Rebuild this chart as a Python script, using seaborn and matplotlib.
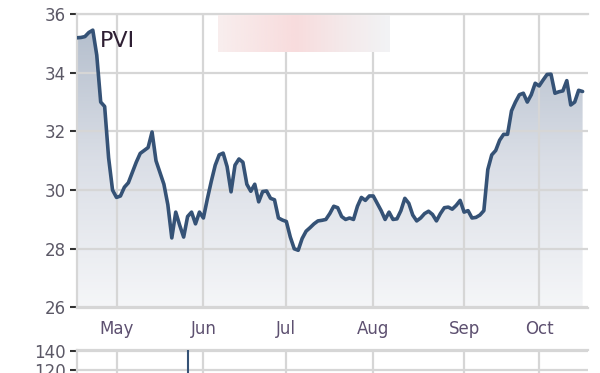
import numpy as np
import pandas as pd
import matplotlib
matplotlib.use("Agg")
import matplotlib.pyplot as plt
import seaborn as sns
from matplotlib.colors import LinearSegmentedColormap

# ---------------- data ----------------
ticker = "PVI"
start_date = "2012-04-16"
end_date = "2012-10-16"
holidays = ["2012-04-30", "2012-05-01", "2012-09-03"]
month_labels = ["May", "Jun", "Jul", "Aug", "Sep", "Oct"]

prices = [35.19, 35.20, 35.23, 35.37, 35.45, 34.60, 33.00, 32.85, 31.10, 30.00,
          29.75, 29.80, 30.10, 30.25, 30.60, 30.95, 31.25, 31.35, 31.45, 31.98,
          31.00, 30.60, 30.20, 29.50, 28.37, 29.25, 28.80, 28.40, 29.10, 29.25,
          28.85, 29.25, 29.05, 29.70, 30.30, 30.85, 31.20, 31.26, 30.80, 29.94,
          30.85, 31.06, 30.95, 30.20, 29.96, 30.20, 29.60, 29.95, 29.97, 29.72,
          29.67, 29.05, 28.98, 28.93, 28.40, 28.00, 27.95, 28.35, 28.60, 28.72,
          28.85, 28.95, 28.97, 29.00, 29.20, 29.45, 29.40, 29.10, 29.00, 29.05,
          29.00, 29.45, 29.75, 29.65, 29.80, 29.80, 29.55, 29.30, 29.00, 29.25,
          29.00, 29.02, 29.30, 29.72, 29.55, 29.15, 28.95, 29.05, 29.20, 29.28,
          29.17, 28.95, 29.20, 29.40, 29.42, 29.35, 29.48, 29.65, 29.25, 29.30,
          29.05, 29.07, 29.15, 29.30, 30.70, 31.20, 31.35, 31.70, 31.90, 31.90,
          32.70, 33.00, 33.25, 33.30, 33.00, 33.25, 33.64, 33.55, 33.75, 33.94,
          33.95, 33.30, 33.35, 33.38, 33.73, 32.90, 33.00, 33.40, 33.36]

price_ticks = [26, 28, 30, 32, 34, 36]
volume_day = [28]          # trading-day index of the one visible volume bar
volume_value = [150]
volume_ticks = [120, 140]

# ---------------- derived ----------------
days = pd.bdate_range(start_date, end_date)
days = days[~days.isin(pd.to_datetime(holidays))]
n = len(days)
df = pd.DataFrame({"idx": np.arange(n), "price": prices[:n], "date": days})
month_start_idx = [int(df.loc[(df.date.dt.month == m), "idx"].iloc[0])
                   for m in range(5, 11)]

LINE = "#355276"
GRID = "#d6d6d6"
TICKLAB = "#5b5866"
MONTHLAB = "#5d5070"

sns.set_theme(style="white")
plt.rcParams["font.family"] = ["DejaVu Sans"]

fig = plt.figure(figsize=(6, 3.73), dpi=100)
fig.patch.set_facecolor("white")

# ---------------- main price axes ----------------
ax = fig.add_axes([77 / 600, 1 - 307.5 / 373, 511 / 600, (307.5 - 14) / 373])
ax.set_facecolor("white")
xmax = 511 / 3.95

sns.lineplot(data=df, x="idx", y="price", ax=ax, color=LINE, lw=2.6, zorder=3)

poly = ax.fill_between(df["idx"], df["price"], 26, color="none", lw=0)
cmap = LinearSegmentedColormap.from_list("fillg", ["#f5f6f8", "#dadee6", "#b0bbca"])
grad = np.linspace(1, 0, 256).reshape(-1, 1)
im = ax.imshow(grad, extent=[0, n - 1, 26, 36], aspect="auto", cmap=cmap,
               origin="upper", zorder=0.3, vmin=0, vmax=1)
im.set_clip_path(poly.get_paths()[0], transform=ax.transData)

ax.set_xlim(0, xmax)
ax.set_ylim(26, 36)
ax.set_yticks(price_ticks)
ax.set_yticklabels([str(t) for t in price_ticks])
ax.set_xticks(month_start_idx)
ax.set_xticklabels(month_labels)
ax.set_xlabel("")
ax.set_ylabel("")
ax.grid(True, color=GRID, lw=1.6)
ax.set_axisbelow("line")
ax.spines["right"].set_visible(False)
for s in ["left", "top", "bottom"]:
    ax.spines[s].set_color(GRID)
    ax.spines[s].set_linewidth(1.6)
ax.tick_params(axis="y", left=True, length=5, width=1.5, color="#333333",
               labelsize=12, labelcolor=TICKLAB, pad=3)
ax.tick_params(axis="x", bottom=False, length=0, labelsize=12,
               labelcolor=MONTHLAB, pad=9)

ax.text((100 - 77) / 511, (307.5 - 41) / 293.5, ticker, transform=ax.transAxes,
        ha="left", va="center", fontsize=16, color="#2e1f33")

# ---------------- volume axes (cut off at bottom) ----------------
vax = fig.add_axes([77 / 600, -0.2, 511 / 600, 0.2617])
vax.set_facecolor("white")
vax.vlines(volume_day, 0, volume_value, color=LINE, lw=1.5, zorder=3)
vax.set_xlim(0, xmax)
vax.set_ylim(36, 141.6)
vax.set_yticks(volume_ticks)
vax.set_yticklabels([str(t) for t in volume_ticks])
vax.set_xticks(month_start_idx)
vax.set_xticklabels([])
vax.grid(True, color=GRID, lw=1.6)
vax.set_axisbelow("line")
vax.spines["right"].set_visible(False)
for s in ["left", "top", "bottom"]:
    vax.spines[s].set_color(GRID)
    vax.spines[s].set_linewidth(1.6)
vax.tick_params(axis="y", left=True, length=5, width=1.5, color="#333333",
                labelsize=12, labelcolor=TICKLAB, pad=3)
vax.tick_params(axis="x", bottom=False, length=0)

# ---------------- blurred watermark box ----------------
bax = fig.add_axes([218 / 600, 1 - 52 / 373, 172 / 600, 37 / 373])
bcmap = LinearSegmentedColormap.from_list(
    "wm", [(0.0, "#f8eeee"), (0.45, "#f8dcdd"), (0.75, "#f4eaeb"), (1.0, "#f2f3f5")])
bax.imshow(np.linspace(0, 1, 256).reshape(1, -1), aspect="auto", cmap=bcmap)
bax.axis("off")

fig.savefig("out.png", dpi=100)
